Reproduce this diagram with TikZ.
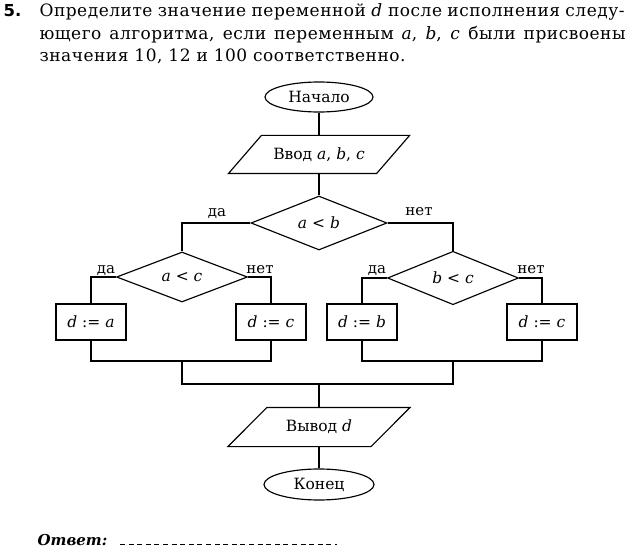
\documentclass[tikz,border=0pt]{standalone}
\usepackage{fontspec}
\setmainfont{DejaVu Serif}
\newfontfamily\numfont{DejaVu Sans}
\newfontfamily\hdrfont[LetterSpace=3]{DejaVu Serif}
\usetikzlibrary{shapes.geometric}
\begin{document}
\begin{tikzpicture}[x=1pt,y=-1pt,
  line width=1.15pt,
  every node/.style={inner sep=0pt},
  dfont/.style={font=\fontsize{15.5}{18}\selectfont},
  term/.style={ellipse,draw,dfont,minimum width=108pt,minimum height=30pt},
  iobox/.style={rectangle,dfont,minimum height=38pt},
  cond/.style={diamond,draw,dfont,minimum width=132pt,minimum height=49pt},
  act/.style={rectangle,draw,dfont,minimum width=70pt,minimum height=36pt},
  lab/.style={anchor=base,font=\fontsize{15}{16}\selectfont},
  hdr/.style={anchor=base west,font=\hdrfont\fontsize{17}{20}\selectfont},
]
\useasboundingbox (0,0) rectangle (633,551);
\fill[white] (0,0) rectangle (633,551);

% header
\node[anchor=base west,font=\numfont\fontsize{16.5}{18}\selectfont\bfseries] (num) at (3,17) {5.};
\node[hdr] (l1) at (39,17) {\makebox[585pt][s]{Определите значение переменной \textit{d} после исполнения следу-}};
\node[hdr] (l2) at (39,39.5) {\makebox[586pt][s]{ющего алгоритма, если переменным \textit{a}, \textit{b}, \textit{c} были присвоены}};
\node[hdr] (l3) at (39,62) {значения 10, 12 и 100 соответственно.};

% flowchart
\node[term] (start) at (319,97) {Начало};
\node[iobox,minimum width=147pt,minimum height=37pt] (in) at (319,154.5) {Ввод \textit{a}, \textit{b}, \textit{c}};
\draw ([xshift=-16.5pt]in.south west) -- ([xshift=-16.5pt]in.south east)
   -- ([xshift=16.5pt]in.north east) -- ([xshift=16.5pt]in.north west) -- cycle;
\node[cond,minimum width=136pt] (ab) at (319,223) {\textit{a} < \textit{b}};
\node[cond,minimum width=131pt,minimum height=48pt] (ac) at (182,277) {\textit{a} < \textit{c}};
\node[cond,minimum width=131pt] (bc) at (453,278) {\textit{b} < \textit{c}};
\node[act] (da) at (91,322) {\textit{d} := \textit{a}};
\node[act] (dc1) at (271,322) {\textit{d} := \textit{c}};
\node[act] (db) at (362,322) {\textit{d} := \textit{b}};
\node[act] (dc2) at (542,322) {\textit{d} := \textit{c}};
\node[iobox,minimum width=142pt] (out) at (319,427) {Вывод \textit{d}};
\draw ([xshift=-19.5pt]out.south west) -- ([xshift=-19.5pt]out.south east)
   -- ([xshift=19.5pt]out.north east) -- ([xshift=19.5pt]out.north west) -- cycle;
\node[term,minimum width=110pt,minimum height=31pt] (end) at (319,484.5) {Конец};

\coordinate (j1) at (182,361);
\coordinate (j2) at (453,361);
\coordinate (j3) at (319,384);

\draw (start.south) -- (in.north);
\draw (in.south) -- (ab.north);
\draw (ab.west) -| (ac.north);
\draw (ab.east) -| (bc.north);
\draw (ac.west) -| (da.north);
\draw (ac.east) -| (dc1.north);
\draw (bc.west) -| (db.north);
\draw (bc.east) -| (dc2.north);
\draw (da.south) -- (da.south |- j1) -- (dc1.south |- j1) -- (dc1.south);
\draw (db.south) -- (db.south |- j2) -- (dc2.south |- j2) -- (dc2.south);
\draw (j1) -- (j1 |- j3) -- (j2 |- j3) -- (j2);
\draw (j3) -- (out.north);
\draw (out.south) -- (end.north);

% labels
\node[lab] (y1) at (217,216) {да};
\node[lab] (n1) at (419,215) {нет};
\node[lab] (y2) at (106,273) {да};
\node[lab] (n2) at (260,273) {нет};
\node[lab] (y3) at (377,273) {да};
\node[lab] (n3) at (531,273) {нет};

% answer
\node[anchor=base west,font=\fontsize{15}{18}\selectfont\bfseries\itshape] (ans) at (37,545) {Ответ:};
\coordinate (a1) at (120,544);
\coordinate (a2) at (337,544);
\draw[line width=0.8pt,dash pattern=on 5pt off 3.6pt] (a1) -- (a2);
\end{tikzpicture}
\end{document}
